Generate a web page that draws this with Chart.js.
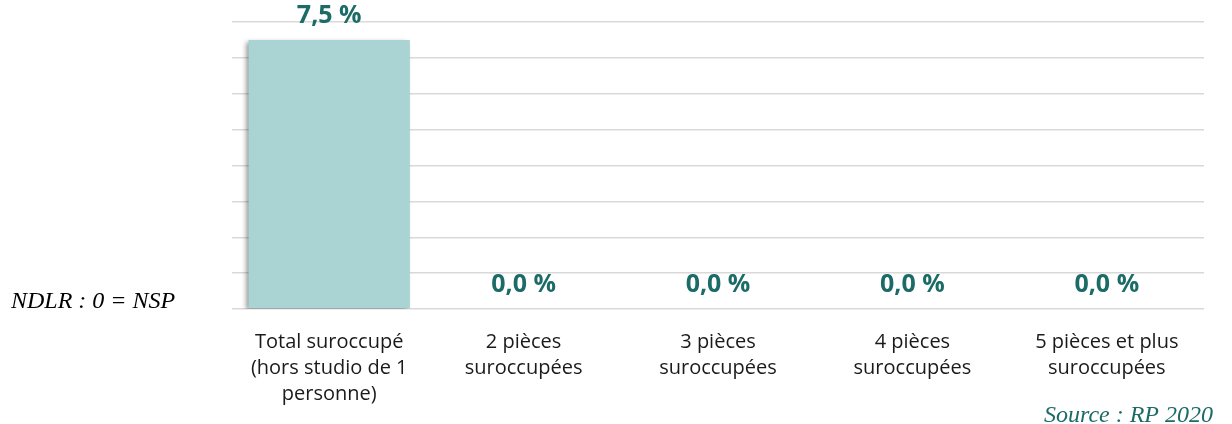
<!DOCTYPE html>
<html>
<head>
<meta charset="utf-8">
<script src="https://cdn.jsdelivr.net/npm/chart.js@4/dist/chart.umd.min.js"></script>
<style>
  html, body { margin: 0; padding: 0; background: #fff; }
  #wrap { width: 1232px; height: 424px; position: relative; }
</style>
</head>
<body>
<div id="wrap"><canvas id="chart"></canvas></div>
<script>
const categories = [
    ['Total suroccupé', '(hors studio de 1', 'personne)'],
    ['2 pièces', 'suroccupées'],
    ['3 pièces', 'suroccupées'],
    ['4 pièces', 'suroccupées'],
    ['5 pièces et plus', 'suroccupées']
];
const tauxSuroccupation = [7.5, 0, 0, 0, 0];

const teal = '#1b6b66';

const fmt = function(v) {
    return v.toFixed(1).replace('.', ',') + ' %';
};

// ombre portée des barres
const barShadow = {
    id: 'barShadow',
    beforeDatasetDraw(chart) {
        const ctx = chart.ctx;
        ctx.save();
        ctx.shadowColor = 'rgba(0,0,0,0.45)';
        ctx.shadowBlur = 5;
        ctx.shadowOffsetX = -3;
        ctx.shadowOffsetY = 2;
    },
    afterDatasetDraw(chart) {
        chart.ctx.restore();
    }
};

// valeurs au-dessus des barres + notes
const extras = {
    id: 'extras',
    afterDraw(chart) {
        const ctx = chart.ctx;
        const meta = chart.getDatasetMeta(0);
        ctx.save();
        ctx.fillStyle = teal;
        ctx.font = 'bold 25px "Open Sans"';
        ctx.textAlign = 'center';
        ctx.textBaseline = 'middle';
        meta.data.forEach(function(bar, i) {
            ctx.fillText(fmt(tauxSuroccupation[i]), bar.x, bar.y - 24);
        });

        ctx.textBaseline = 'alphabetic';
        ctx.fillStyle = '#000';
        ctx.font = 'italic 24px "Liberation Serif"';
        ctx.textAlign = 'left';
        ctx.fillText('NDLR : 0 = NSP', 11, 308);

        ctx.fillStyle = teal;
        ctx.textAlign = 'right';
        ctx.fillText('Source : RP 2020', 1213, 422);
        ctx.restore();
    }
};

const canvas = document.getElementById('chart');
const chart = new Chart(canvas.getContext('2d'), {
    type: 'bar',
    data: {
        labels: categories,
        datasets: [{
            data: tauxSuroccupation,
            backgroundColor: '#aad3d3',
            categoryPercentage: 0.83,
            barPercentage: 1
        }]
    },
    options: {
        responsive: true,
        maintainAspectRatio: false,
        animation: false,
        layout: { padding: { left: 232, right: 28, top: 22, bottom: 0 } },
        plugins: {
            legend: { display: false },
            tooltip: { enabled: false }
        },
        scales: {
            x: {
                grid: { display: false },
                border: { display: false },
                ticks: {
                    color: '#1a1a1a',
                    font: { family: '"Open Sans"', size: 20, lineHeight: 1.3 },
                    padding: 12,
                    maxRotation: 0,
                    autoSkip: false
                },
                afterFit(scale) { scale.height = 115; }
            },
            y: {
                min: 0,
                max: 8,
                ticks: { display: false, stepSize: 1 },
                border: { display: false },
                grid: { color: '#d9d9d9', lineWidth: 1.5, drawTicks: false },
                afterFit(scale) { scale.width = 0; }
            }
        }
    },
    plugins: [barShadow, extras]
});
</script>
</body>
</html>
